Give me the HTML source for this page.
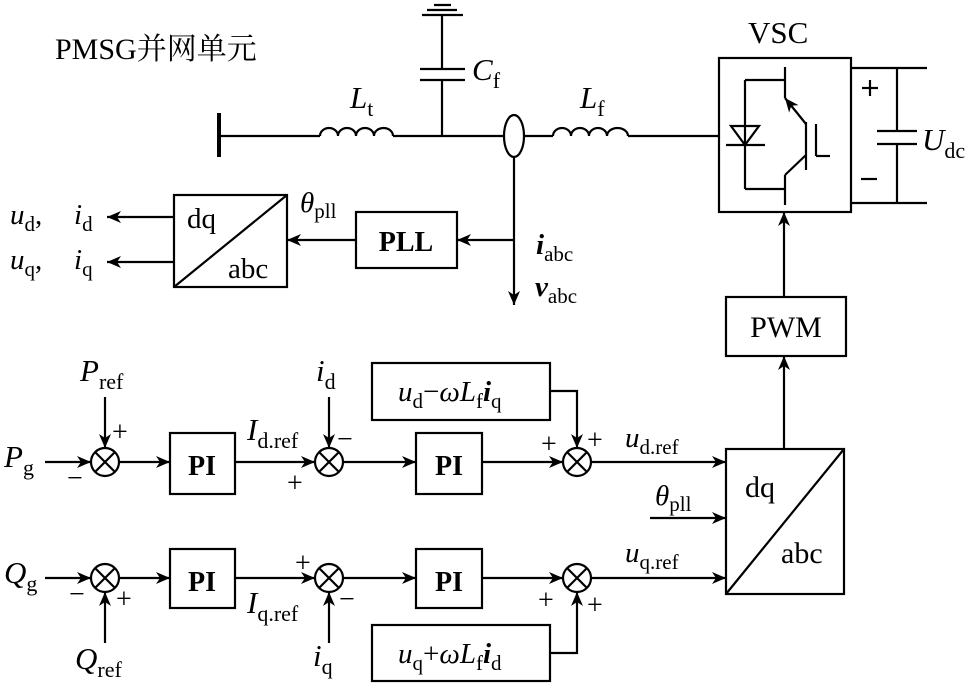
<!DOCTYPE html>
<html><head><meta charset="utf-8"><style>
html,body{margin:0;padding:0;background:#fff;}
svg{display:block;}
text{font-family:"Liberation Serif","Noto Serif CJK SC",serif;fill:#000;}
.i{font-style:italic;}
</style></head><body>
<svg width="975" height="686" viewBox="0 0 975 686" xmlns="http://www.w3.org/2000/svg">
<defs>
<marker id="a" viewBox="0 0 14 12" refX="14" refY="6" markerWidth="15" markerHeight="12" markerUnits="userSpaceOnUse" orient="auto">
<path d="M0,0 L14,6 L0,12 L4,6 Z" fill="#000"/></marker>
</defs>
<g stroke="#000" stroke-width="2.2" fill="none">
<line x1="219" y1="113" x2="219" y2="157" stroke-width="4"/>
<line x1="219" y1="136" x2="320" y2="136"/>
<path d="M320,136 a9,8 0 0 1 18,0 a9,8 0 0 1 18,0 a9,8 0 0 1 18,0 a9.5,8 0 0 1 19,0"/>
<line x1="393" y1="136" x2="504" y2="136"/>
<line x1="524" y1="136" x2="553" y2="136"/>
<path d="M553,136 a9,8 0 0 1 18,0 a9,8 0 0 1 18,0 a9,8 0 0 1 18,0 a10.5,8 0 0 1 21,0"/>
<line x1="628" y1="136" x2="719" y2="136"/>
<line x1="442" y1="16" x2="442" y2="69"/>
<line x1="442" y1="80" x2="442" y2="136"/>
<line x1="420" y1="69" x2="465" y2="69"/>
<line x1="420" y1="80" x2="465" y2="80"/>
<line x1="434" y1="5" x2="451" y2="5"/>
<line x1="427" y1="10" x2="457" y2="10"/>
<line x1="422" y1="15" x2="463" y2="15"/>
<ellipse cx="514" cy="136" rx="10" ry="21"/>
<line x1="514" y1="157" x2="514" y2="305" marker-end="url(#a)"/>
<line x1="514" y1="240" x2="457" y2="240" marker-end="url(#a)"/>
<rect x="356" y="212" width="101" height="56"/>
<line x1="356" y1="240" x2="287" y2="240" marker-end="url(#a)"/>
<rect x="174" y="195" width="113" height="92"/>
<line x1="174" y1="287" x2="287" y2="195"/>
<line x1="174" y1="217" x2="107" y2="217" marker-end="url(#a)"/>
<line x1="174" y1="262" x2="107" y2="262" marker-end="url(#a)"/>
<rect x="719" y="58" width="132" height="154"/>
<line x1="785" y1="67" x2="785" y2="98"/>
<line x1="785" y1="175" x2="785" y2="205"/>
<line x1="745" y1="80" x2="785" y2="80"/>
<line x1="745" y1="189" x2="785" y2="189"/>
<line x1="745" y1="80" x2="745" y2="189"/>
<path d="M731,126 L759,126 L745,145 Z"/>
<line x1="726" y1="145" x2="765" y2="145"/>
<line x1="806" y1="124" x2="785" y2="98" marker-end="url(#a)"/>
<line x1="806" y1="122" x2="806" y2="170"/>
<line x1="806" y1="155" x2="785" y2="175"/>
<line x1="816" y1="124" x2="816" y2="156"/>
<line x1="816" y1="156" x2="830" y2="156"/>
<line x1="851" y1="68" x2="927" y2="68"/>
<line x1="851" y1="203" x2="927" y2="203"/>
<line x1="897" y1="68" x2="897" y2="131"/>
<line x1="897" y1="144" x2="897" y2="203"/>
<line x1="877" y1="131" x2="917" y2="131"/>
<line x1="877" y1="144" x2="917" y2="144"/>
<line x1="862" y1="88" x2="878" y2="88"/><line x1="870" y1="80" x2="870" y2="96"/>
<line x1="861" y1="179" x2="877" y2="179"/>
<rect x="726" y="297" width="120" height="59"/>
<line x1="784" y1="297" x2="784" y2="212" marker-end="url(#a)"/>
<line x1="784" y1="449" x2="784" y2="356" marker-end="url(#a)"/>
<rect x="726" y="449" width="118" height="145"/>
<line x1="726" y1="594" x2="844" y2="449"/>
<line x1="45" y1="462" x2="91" y2="462" marker-end="url(#a)"/>
<circle cx="105" cy="462" r="14"/>
<line x1="95" y1="452" x2="115" y2="472"/><line x1="115" y1="452" x2="95" y2="472"/>
<line x1="105" y1="397" x2="105" y2="448" marker-end="url(#a)"/>
<line x1="119" y1="462" x2="170" y2="462" marker-end="url(#a)"/>
<rect x="170" y="433" width="65" height="61"/>
<line x1="235" y1="462" x2="315" y2="462" marker-end="url(#a)"/>
<circle cx="329" cy="462" r="14"/>
<line x1="319" y1="452" x2="339" y2="472"/><line x1="339" y1="452" x2="319" y2="472"/>
<line x1="329" y1="397" x2="329" y2="448" marker-end="url(#a)"/>
<line x1="343" y1="462" x2="416" y2="462" marker-end="url(#a)"/>
<rect x="416" y="433" width="66" height="61"/>
<line x1="482" y1="462" x2="563" y2="462" marker-end="url(#a)"/>
<circle cx="577" cy="462" r="14"/>
<line x1="567" y1="452" x2="587" y2="472"/><line x1="587" y1="452" x2="567" y2="472"/>
<rect x="372" y="363" width="178" height="57"/>
<polyline points="550,391 577,391 577,448" marker-end="url(#a)"/>
<line x1="591" y1="462" x2="726" y2="462" marker-end="url(#a)"/>
<line x1="650" y1="518" x2="726" y2="518" marker-end="url(#a)"/>
<line x1="45" y1="578" x2="91" y2="578" marker-end="url(#a)"/>
<circle cx="105" cy="578" r="14"/>
<line x1="95" y1="568" x2="115" y2="588"/><line x1="115" y1="568" x2="95" y2="588"/>
<line x1="105" y1="643" x2="105" y2="592" marker-end="url(#a)"/>
<line x1="119" y1="578" x2="170" y2="578" marker-end="url(#a)"/>
<rect x="170" y="549" width="65" height="59"/>
<line x1="235" y1="578" x2="315" y2="578" marker-end="url(#a)"/>
<circle cx="329" cy="578" r="14"/>
<line x1="319" y1="568" x2="339" y2="588"/><line x1="339" y1="568" x2="319" y2="588"/>
<line x1="329" y1="643" x2="329" y2="592" marker-end="url(#a)"/>
<line x1="343" y1="578" x2="416" y2="578" marker-end="url(#a)"/>
<rect x="416" y="549" width="66" height="59"/>
<line x1="482" y1="578" x2="563" y2="578" marker-end="url(#a)"/>
<circle cx="577" cy="578" r="14"/>
<line x1="567" y1="568" x2="587" y2="588"/><line x1="587" y1="568" x2="567" y2="588"/>
<rect x="372" y="625" width="178" height="56"/>
<polyline points="550,653 577,653 577,592" marker-end="url(#a)"/>
<line x1="591" y1="578" x2="726" y2="578" marker-end="url(#a)"/>
</g>
<text x="55" y="59" font-size="30">PMSG并网单元</text>
<text x="748" y="43" font-size="31">VSC</text>
<text x="350" y="108" font-size="31" class="i">L<tspan font-size="22" font-style="normal" dy="8">t</tspan></text>
<text x="472" y="80" font-size="31" class="i">C<tspan font-size="22" font-style="normal" dy="8">f</tspan></text>
<text x="580" y="108" font-size="31" class="i">L<tspan font-size="22" font-style="normal" dy="8">f</tspan></text>
<text x="922" y="150" font-size="31" class="i">U<tspan font-size="22" font-style="normal" dy="8">dc</tspan></text>
<text x="10" y="224" font-size="29" class="i">u<tspan font-size="21" font-style="normal" dy="7">d</tspan><tspan dy="-7" font-style="normal">,</tspan></text>
<text x="74" y="224" font-size="29" class="i">i<tspan font-size="21" font-style="normal" dy="7">d</tspan></text>
<text x="10" y="269" font-size="29" class="i">u<tspan font-size="21" font-style="normal" dy="7">q</tspan><tspan dy="-7" font-style="normal">,</tspan></text>
<text x="74" y="269" font-size="29" class="i">i<tspan font-size="21" font-style="normal" dy="7">q</tspan></text>
<text x="187" y="228" font-size="29">dq</text>
<text x="228" y="278" font-size="29">abc</text>
<text x="300" y="212" font-size="29" class="i">θ<tspan font-size="21" font-style="normal" dy="6">pll</tspan></text>
<text x="406" y="251" font-size="28" font-weight="bold" text-anchor="middle">PLL</text>
<text x="536" y="254" font-size="29" class="i" font-weight="bold">i<tspan font-size="21" font-style="normal" font-weight="normal" dy="7">abc</tspan></text>
<text x="535" y="296" font-size="29" class="i" font-weight="bold">v<tspan font-size="21" font-style="normal" font-weight="normal" dy="7">abc</tspan></text>
<text x="786" y="337" font-size="30" text-anchor="middle">PWM</text>
<text x="745" y="497" font-size="30">dq</text>
<text x="781" y="563" font-size="30">abc</text>
<g font-size="28" font-weight="bold" text-anchor="middle">
<text x="202" y="475">PI</text><text x="449" y="475">PI</text>
<text x="202" y="591">PI</text><text x="449" y="591">PI</text>
</g>
<text x="4" y="467" font-size="31" class="i">P<tspan font-size="22" font-style="normal" dy="8">g</tspan></text>
<text x="4" y="583" font-size="31" class="i">Q<tspan font-size="22" font-style="normal" dy="8">g</tspan></text>
<text x="80" y="381" font-size="31" class="i">P<tspan font-size="22" font-style="normal" dy="8">ref</tspan></text>
<text x="75" y="669" font-size="31" class="i">Q<tspan font-size="22" font-style="normal" dy="8">ref</tspan></text>
<text x="316" y="381" font-size="31" class="i">i<tspan font-size="22" font-style="normal" dy="8">d</tspan></text>
<text x="313" y="666" font-size="31" class="i">i<tspan font-size="22" font-style="normal" dy="8">q</tspan></text>
<text x="247" y="440" font-size="31" class="i">I<tspan font-size="22" font-style="normal" dy="8">d.ref</tspan></text>
<text x="247" y="613" font-size="31" class="i">I<tspan font-size="22" font-style="normal" dy="8">q.ref</tspan></text>
<text x="625" y="447" font-size="29" class="i">u<tspan font-size="21" font-style="normal" dy="7">d.ref</tspan></text>
<text x="625" y="562" font-size="29" class="i">u<tspan font-size="21" font-style="normal" dy="7">q.ref</tspan></text>
<text x="655" y="505" font-size="29" class="i">θ<tspan font-size="21" font-style="normal" dy="6">pll</tspan></text>
<text x="398" y="401" font-size="29" class="i">u<tspan font-size="21" font-style="normal" dy="7">d</tspan><tspan dy="-7" font-style="normal">−</tspan>ωL<tspan font-size="21" font-style="normal" dy="7">f</tspan><tspan dy="-7" font-weight="bold">i</tspan><tspan font-size="21" font-style="normal" dy="7">q</tspan></text>
<text x="398" y="663" font-size="29" class="i">u<tspan font-size="21" font-style="normal" dy="7">q</tspan><tspan dy="-7" font-style="normal">+</tspan>ωL<tspan font-size="21" font-style="normal" dy="7">f</tspan><tspan dy="-7" font-weight="bold">i</tspan><tspan font-size="21" font-style="normal" dy="7">d</tspan></text>
<g font-size="28">
<text x="112" y="441">+</text><text x="67" y="487">−</text>
<text x="337" y="448">−</text><text x="287" y="492">+</text>
<text x="541" y="453">+</text><text x="587" y="449">+</text>
<text x="69" y="603">−</text><text x="116" y="608">+</text>
<text x="295" y="572">+</text><text x="339" y="608">−</text>
<text x="538" y="609">+</text><text x="587" y="614">+</text>
</g>
</svg>
</body></html>
